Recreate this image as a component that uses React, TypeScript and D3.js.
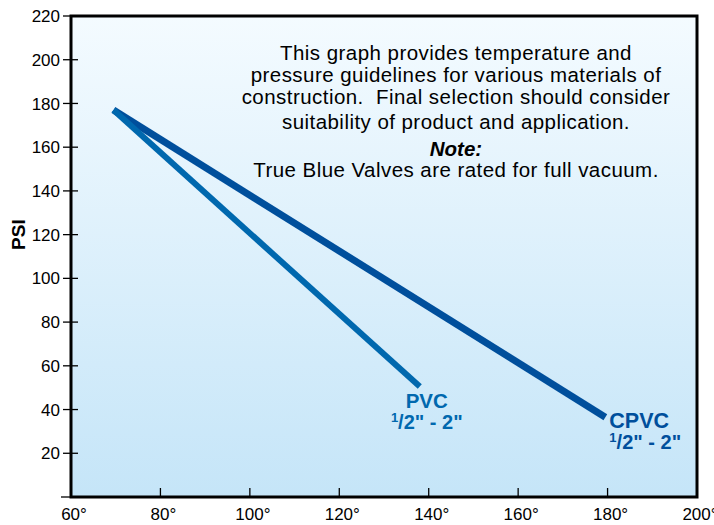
import React, { useRef, useEffect } from "react";
import * as d3 from "d3";

const tempTicks = [60, 80, 100, 120, 140, 160, 180, 200];
const psiTicks = [20, 40, 60, 80, 100, 120, 140, 160, 180, 200, 220];

const pvcLine = [
  { temp: 69.5, psi: 177 },
  { temp: 138, psi: 50.5 },
];
const cpvcLine = [
  { temp: 69.5, psi: 177 },
  { temp: 179.5, psi: 36.5 },
];

const noteLines = [
  "This graph provides temperature and",
  "pressure guidelines for various materials of",
  "construction.  Final selection should consider",
  "suitability of product and application.",
];

const W = 714;
const H = 525;
const FONT = "'Liberation Sans', Arial, Helvetica, sans-serif";

const App = () => {
  const ref = useRef<SVGSVGElement | null>(null);

  useEffect(() => {
    if (!ref.current) return;
    const margin = { top: 16, right: 17, bottom: 28, left: 71 };
    const width = W - margin.left - margin.right;
    const height = H - margin.top - margin.bottom;

    const root = d3.select(ref.current);
    root.selectAll("*").remove();

    const defs = root.append("defs");
    const grad = defs
      .append("linearGradient")
      .attr("id", "bg")
      .attr("x1", 0)
      .attr("y1", 0)
      .attr("x2", 0)
      .attr("y2", 1);
    grad.append("stop").attr("offset", "0%").attr("stop-color", "#f4fbff");
    grad.append("stop").attr("offset", "100%").attr("stop-color", "#c5e5f8");

    const svg = root
      .append("g")
      .attr("transform", `translate(${margin.left},${margin.top})`);

    const x = d3.scaleLinear().domain([60, 200]).range([0, width]);
    const y = d3.scaleLinear().domain([0, 220]).range([height, 0]);

    // background panel
    svg
      .append("rect")
      .attr("x", 0)
      .attr("y", 0)
      .attr("width", width)
      .attr("height", height)
      .attr("fill", "url(#bg)");

    // y ticks (cross the axis)
    svg
      .selectAll(".ytick")
      .data(psiTicks)
      .enter()
      .append("line")
      .attr("x1", -8)
      .attr("x2", (d) => (d === 220 ? 0 : 7))
      .attr("y1", (d) => y(d))
      .attr("y2", (d) => y(d))
      .attr("stroke", "#000")
      .attr("stroke-width", 1.3);

    svg
      .selectAll(".ylab")
      .data(psiTicks)
      .enter()
      .append("text")
      .attr("x", -11)
      .attr("y", (d) => y(d))
      .attr("dy", "0.36em")
      .attr("text-anchor", "end")
      .attr("font-family", FONT)
      .attr("font-size", 17)
      .attr("fill", "#000")
      .text((d) => d);

    // x ticks (inside)
    svg
      .selectAll(".xtick")
      .data(tempTicks.slice(1, -1))
      .enter()
      .append("line")
      .attr("x1", (d) => x(d))
      .attr("x2", (d) => x(d))
      .attr("y1", height)
      .attr("y2", height - 9)
      .attr("stroke", "#000")
      .attr("stroke-width", 1.3);

    svg
      .selectAll(".xlab")
      .data(tempTicks)
      .enter()
      .append("text")
      .attr("x", (d) => x(d) + 3)
      .attr("y", height + 23)
      .attr("text-anchor", "middle")
      .attr("font-family", FONT)
      .attr("font-size", 17)
      .attr("fill", "#000")
      .text((d) => `${d}°`);

    // frame
    svg
      .append("rect")
      .attr("x", 0)
      .attr("y", 0)
      .attr("width", width)
      .attr("height", height)
      .attr("fill", "none")
      .attr("stroke", "#000")
      .attr("stroke-width", 3);

    svg
      .append("line")
      .attr("x1", -10)
      .attr("x2", 0)
      .attr("y1", height)
      .attr("y2", height)
      .attr("stroke", "#000")
      .attr("stroke-width", 1.3);

    // PSI label
    svg
      .append("text")
      .attr("transform", `translate(${-46},${y(120)}) rotate(-90)`)
      .attr("text-anchor", "middle")
      .attr("font-family", FONT)
      .attr("font-size", 19)
      .attr("font-weight", "bold")
      .attr("fill", "#000")
      .text("PSI");

    const line = d3
      .line<{ temp: number; psi: number }>()
      .x((d) => x(d.temp))
      .y((d) => y(d.psi));

    svg
      .append("path")
      .datum(cpvcLine)
      .attr("d", line)
      .attr("fill", "none")
      .attr("stroke", "#004f9c")
      .attr("stroke-width", 7);

    svg
      .append("path")
      .datum(pvcLine)
      .attr("d", line)
      .attr("fill", "none")
      .attr("stroke", "#0068ae")
      .attr("stroke-width", 6);

    // note text
    const cx = 456 - margin.left;
    const baselines = [44, 66, 88, 113];
    const noteText = (t: string, yy: number) =>
      svg
        .append("text")
        .attr("x", cx)
        .attr("y", yy)
        .attr("text-anchor", "middle")
        .attr("font-family", FONT)
        .attr("font-size", 20.5)
        .attr("letter-spacing", 0.45)
        .attr("fill", "#000")
        .style("white-space", "pre")
        .text(t);
    noteLines.forEach((t, i) => noteText(t, baselines[i]));
    noteText("Note:", 140)
      .attr("font-weight", "bold")
      .attr("font-style", "italic")
      .attr("letter-spacing", 0);
    noteText("True Blue Valves are rated for full vacuum.", 161);

    // series labels
    const addLabel = (
      name: string,
      px: number,
      py: number,
      anchor: string,
      color: string,
      size: number
    ) => {
      const g = svg.append("g").attr("transform", `translate(${px},${py})`);
      g.append("text")
        .attr("x", 0)
        .attr("y", 0)
        .attr("text-anchor", anchor)
        .attr("font-family", FONT)
        .attr("font-size", size)
        .attr("font-weight", "bold")
        .attr("fill", color)
        .text(name);
      const t = g
        .append("text")
        .attr("x", 0)
        .attr("y", 21)
        .attr("text-anchor", anchor)
        .attr("font-family", FONT)
        .attr("font-size", 20)
        .attr("font-weight", "bold")
        .attr("fill", color);
      t.append("tspan").attr("font-size", 13).attr("dy", -7).text("1");
      t.append("tspan").attr("dy", 7).text('/2" - 2"');
    };

    addLabel("PVC", x(138) + 7, y(50.5) + 21, "middle", "#0068ae", 20.5);
    addLabel("CPVC", x(179.5) + 4, y(36.5) + 11, "start", "#004f9c", 21.5);
  }, []);

  return (
    <div style={{ position: "absolute", left: 0, top: 0 }}>
      <svg ref={ref} width={W} height={H} style={{ display: "block" }} />
    </div>
  );
};

export default App;
